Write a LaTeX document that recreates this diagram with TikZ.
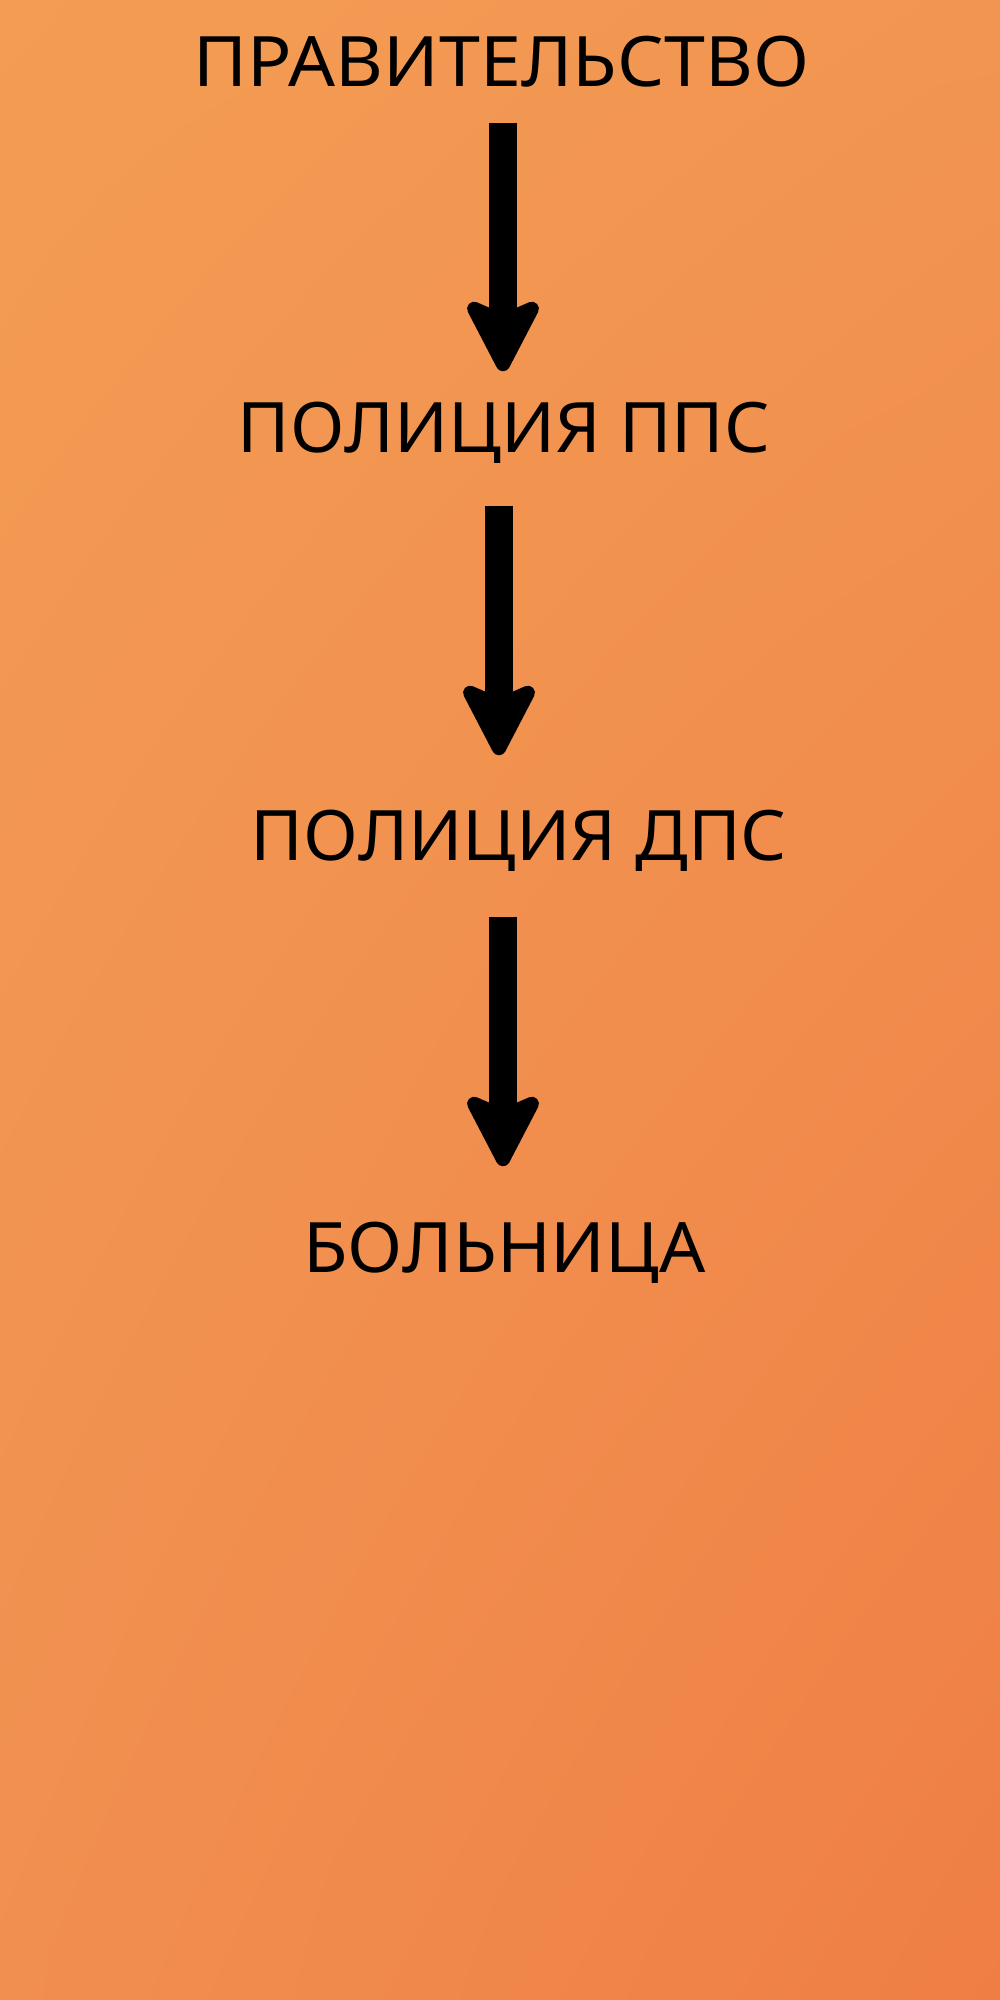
\documentclass[tikz,border=0pt]{standalone}
\usepackage{fontspec}
\setmainfont{Noto Sans}
\usepackage{graphicx}
\usetikzlibrary{arrows.meta,shadings}
\definecolor{bgUL}{HTML}{F39C53}
\definecolor{bgUR}{HTML}{F29552}
\definecolor{bgLL}{HTML}{F18F50}
\definecolor{bgLR}{HTML}{EF7E44}
\tikzset{
  tier/.style={inner sep=0pt, anchor=base, text height=0.55cm, text depth=0pt,
    font=\fontsize{19.8}{24}\selectfont},
  flow/.style={line width=0.28cm,
    -{Stealth[length=0.84cm, width=0.86cm, inset=0.18cm, round, line width'=4pt]}}
}
\newcommand{\wide}[2]{\resizebox{#1}{\height}{#2}}

\begin{document}
\begin{tikzpicture}
  % background
  \shade[upper left=bgUL, upper right=bgUR, lower left=bgLL, lower right=bgLR]
    (0,0) rectangle (10,20);
  \useasboundingbox (0,0) rectangle (10,20);
  % chain of levels
  \coordinate (G) at (5.015,19.13);
  \coordinate (P) at (5.04,15.47);
  \coordinate (D) at (5.19,11.39);
  \coordinate (H) at (5.045,7.27);
  \node[tier] (gov) at (G) {\wide{6.15cm}{ПРАВИТЕЛЬСТВО}};
  \node[tier] (pps) at (P) {\wide{5.32cm}{ПОЛИЦИЯ ППС}};
  \node[tier] (dps) at (D) {\wide{5.36cm}{ПОЛИЦИЯ ДПС}};
  \node[tier] (hosp) at (H) {\wide{4.02cm}{БОЛЬНИЦА}};
  % arrow axes
  \coordinate (a1) at (5.03,0);
  \coordinate (a2) at (4.99,0);
  \coordinate (a3) at (5.03,0);
  \draw[flow, shorten <=0.35cm, shorten >=0.26cm] (gov.south -| a1) -- (pps.north -| a1);
  \draw[flow, shorten <=0.52cm, shorten >=0.50cm] (pps.south -| a2) -- (dps.north -| a2);
  \draw[flow, shorten <=0.55cm, shorten >=0.51cm] (dps.south -| a3) -- (hosp.north -| a3);
\end{tikzpicture}
\end{document}
